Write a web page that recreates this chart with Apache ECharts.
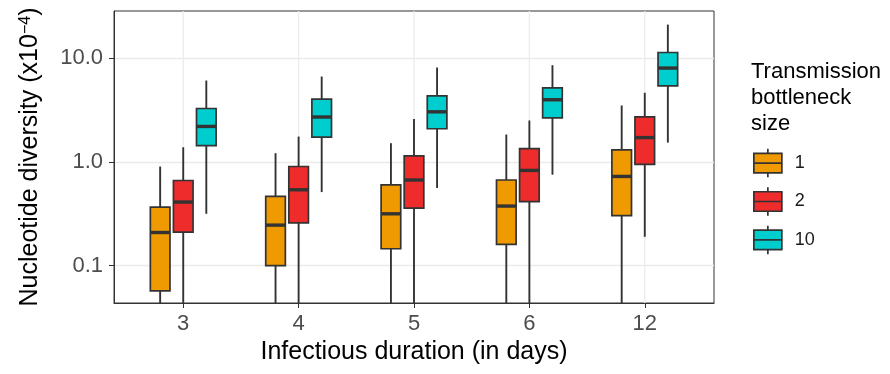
<!DOCTYPE html>
<html><head><meta charset="utf-8">
<script src="https://cdn.jsdelivr.net/npm/echarts@6/dist/echarts.min.js"></script>
<style>html,body{margin:0;padding:0;background:#fff}#c{width:890px;height:374px}</style>
</head><body><div id="c"></div>
<script>
const categories = ['3', '4', '5', '6', '12'];
const groups = ['1', '2', '10'];
// [lower whisker, Q1, median, Q3, upper whisker]; 0 = whisker reaches zero (below the log scale)
const size1 = [[0, 0.057, 0.208, 0.366, 0.90], [0, 0.0995, 0.245, 0.463, 1.21], [0, 0.145, 0.315, 0.600, 1.51], [0, 0.16, 0.374, 0.667, 1.83], [0, 0.302, 0.722, 1.30, 3.49]];
const size2 = [[0, 0.210, 0.409, 0.660, 1.38], [0, 0.257, 0.537, 0.90, 1.75], [0, 0.358, 0.667, 1.14, 2.58], [0, 0.412, 0.825, 1.34, 2.50], [0.189, 0.942, 1.71, 2.71, 4.62]];
const size10 = [[0.315, 1.43, 2.19, 3.26, 6.07], [0.51, 1.73, 2.70, 4.02, 6.63], [0.558, 2.08, 3.03, 4.32, 8.10], [0.75, 2.65, 3.96, 5.16, 8.53], [1.53, 5.40, 8.0, 11.3, 21.0]];
const yTicks = [0.1, 1, 10];

const colors = ['#EE9A00', '#EE2C2C', '#00CDCD'];
const seriesData = [size1, size2, size10];
const offsets = [-0.2, 0, 0.2];
const BOX_W = 0.17;
const Y_MIN = 0.0435, Y_MAX = 28.4;
const FONT = '"Liberation Sans", Arial, Helvetica, sans-serif';
const catIdx = categories.map((c, i) => i);

function makeSeries(gi) {
  return {
    type: 'custom',
    name: groups[gi],
    data: seriesData[gi].map((d, i) => [i].concat(d)),
    encode: { x: 0, y: [2, 3, 4] },
    itemStyle: { color: colors[gi], borderColor: '#333333', borderWidth: 1.6 },
    z: 3,
    renderItem: function (params, api) {
      const x = api.value(0) + offsets[gi];
      const v = [1, 2, 3, 4, 5].map(k => { const val = api.value(k); return val > 0 ? val : Y_MIN; });
      const pLow = api.coord([x, v[0]]), pQ1 = api.coord([x, v[1]]), pMed = api.coord([x, v[2]]),
            pQ3 = api.coord([x, v[3]]), pHigh = api.coord([x, v[4]]);
      const left = api.coord([x - BOX_W / 2, 1])[0], right = api.coord([x + BOX_W / 2, 1])[0];
      const line = { stroke: '#333333', lineWidth: 1.9 };
      return {
        type: 'group',
        children: [
          { type: 'line', shape: { x1: pLow[0], y1: pLow[1], x2: pQ1[0], y2: pQ1[1] }, style: line },
          { type: 'line', shape: { x1: pQ3[0], y1: pQ3[1], x2: pHigh[0], y2: pHigh[1] }, style: line },
          { type: 'rect', shape: { x: left, y: pQ3[1], width: right - left, height: pQ1[1] - pQ3[1] },
            style: { fill: api.visual('color'), stroke: '#333333', lineWidth: 1.7 } },
          { type: 'line', shape: { x1: left, y1: pMed[1], x2: right, y2: pMed[1] }, style: { stroke: '#333333', lineWidth: 3.4 } }
        ]
      };
    }
  };
}

// vertical major grid lines at each category position
const gridSeries = {
  type: 'custom', name: 'grid', silent: true, z: 1,
  data: catIdx.map(i => [i, Y_MIN, Y_MAX]),
  encode: { x: 0, y: [1, 2] },
  renderItem: function (params, api) {
    const a = api.coord([api.value(0), api.value(1)]), b = api.coord([api.value(0), api.value(2)]);
    return { type: 'line', shape: { x1: a[0], y1: a[1], x2: b[0], y2: b[1] }, style: { stroke: '#EBEBEB', lineWidth: 1.3 } };
  }
};

const chart = echarts.init(document.getElementById('c'), null, { renderer: 'canvas' });
chart.setOption({
  animation: false,
  backgroundColor: '#ffffff',
  textStyle: { fontFamily: FONT },
  title: {
    text: 'Transmission\nbottleneck\nsize', left: 751, top: 59, padding: 0,
    textStyle: { fontFamily: FONT, fontSize: 22, lineHeight: 26, fontWeight: 'normal', color: '#000000' }
  },
  legend: {
    orient: 'vertical', left: 753, top: 148, padding: 0,
    itemWidth: 28, itemHeight: 28.5, itemGap: 8.2,
    icon: 'path://M0,4.5H28V24H0Z M0,14.25H28 M14,0V4.5 M14,24V28.5',
    itemStyle: { borderColor: '#333333', borderWidth: 1.7 },
    textStyle: { fontFamily: FONT, fontSize: 18, color: '#1a1a1a', padding: [0, 0, 0, 8] },
    data: groups
  },
  grid: { left: 114, top: 11, width: 600, height: 292, show: true, borderColor: '#333333', borderWidth: 1, containLabel: false },
  xAxis: {
    type: 'value', min: -0.6, max: 4.6,
    name: 'Infectious duration (in days)', nameLocation: 'middle', nameGap: 37,
    nameTextStyle: { fontFamily: FONT, fontSize: 25, color: '#000000' },
    axisLine: { show: true, onZero: false, lineStyle: { color: '#333333', width: 1 } },
    axisTick: { show: true, length: 5, customValues: catIdx, lineStyle: { color: '#333333', width: 1 } },
    axisLabel: { customValues: catIdx, formatter: v => categories[Math.round(v)], fontFamily: FONT, fontSize: 22, color: '#4D4D4D', margin: 10 },
    splitLine: { show: false }
  },
  yAxis: {
    type: 'log', logBase: 10, min: Y_MIN, max: Y_MAX,
    name: '{a|Nucleotide diversity (x10}{s|−4}{a|)}', nameLocation: 'middle', nameRotate: 90, nameGap: 71,
    nameTextStyle: { fontFamily: FONT, fontSize: 25, color: '#000000',
      rich: { a: { fontFamily: FONT, fontSize: 25, color: '#000000' }, s: { fontFamily: FONT, fontSize: 16, color: '#000000', verticalAlign: 'top' } } },
    axisLine: { show: true, onZero: false, lineStyle: { color: '#333333', width: 1 } },
    axisTick: { show: true, length: 5, customValues: yTicks, lineStyle: { color: '#333333', width: 1 } },
    axisLabel: { customValues: yTicks, formatter: v => Number(v).toFixed(1), fontFamily: FONT, fontSize: 22, color: '#4D4D4D', margin: 11 },
    splitLine: { show: true, lineStyle: { color: '#EBEBEB', width: 1.3 } }
  },
  series: [gridSeries, makeSeries(0), makeSeries(1), makeSeries(2)]
});
</script></body></html>
